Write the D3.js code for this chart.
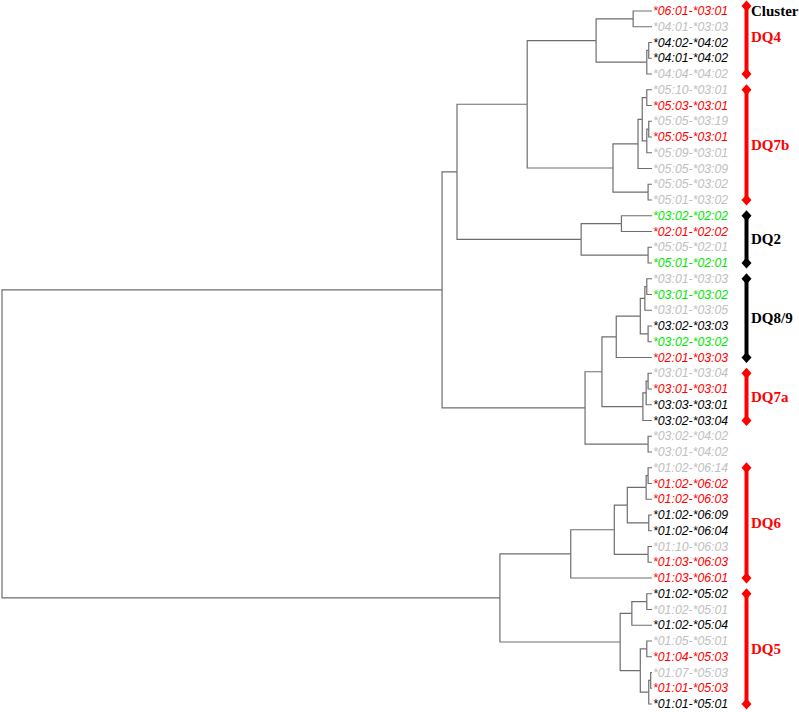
<!DOCTYPE html>
<html><head><meta charset="utf-8">
<script src="https://cdn.jsdelivr.net/npm/d3@7"></script>
<style>body{margin:0;background:#fff;} svg{display:block;}</style>
</head><body>
<svg id="chart" width="799" height="712"></svg>
<script>
// ---- data ----
const leafLabels = [
  "*06:01-*03:01","*04:01-*03:03","*04:02-*04:02","*04:01-*04:02","*04:04-*04:02",
  "*05:10-*03:01","*05:03-*03:01","*05:05-*03:19","*05:05-*03:01","*05:09-*03:01",
  "*05:05-*03:09","*05:05-*03:02","*05:01-*03:02","*03:02-*02:02","*02:01-*02:02",
  "*05:05-*02:01","*05:01-*02:01","*03:01-*03:03","*03:01-*03:02","*03:01-*03:05",
  "*03:02-*03:03","*03:02-*03:02","*02:01-*03:03","*03:01-*03:04","*03:01-*03:01",
  "*03:03-*03:01","*03:02-*03:04","*03:02-*04:02","*03:01-*04:02","*01:02-*06:14",
  "*01:02-*06:02","*01:02-*06:03","*01:02-*06:09","*01:02-*06:04","*01:10-*06:03",
  "*01:03-*06:03","*01:03-*06:01","*01:02-*05:02","*01:02-*05:01","*01:02-*05:04",
  "*01:05-*05:01","*01:04-*05:03","*01:07-*05:03","*01:01-*05:03","*01:01-*05:01"
];
const leafGroups = [
  "r","n","k","k","n", "n","r","n","r","n", "n","n","n","g","r",
  "n","g","n","g","n", "k","g","r","n","r", "k","k","n","n","n",
  "r","r","k","k","n", "r","r","k","n","k", "n","r","n","r","k"
];
// linkage: [childA, childB, height]; ids of merges start at leafLabels.length
const merges = [
  [2,3,0.005],[45,4,0.008],[0,1,0.029],[47,46,0.086],
  [5,6,0.008],[7,8,0.005],[50,9,0.008],[49,51,0.015],[52,10,0.0215],[11,12,0.006],[53,54,0.060],
  [48,55,0.192],[13,14,0.047],[15,16,0.006],[57,58,0.109],[56,59,0.300],
  [17,18,0.008],[61,19,0.011],[20,21,0.006],[62,63,0.018],[64,22,0.055],
  [23,24,0.006],[66,25,0.009],[67,26,0.014],[65,68,0.077],[27,28,0.006],[69,70,0.103],
  [60,71,0.323],
  [29,30,0.006],[73,31,0.009],[32,33,0.005],[74,75,0.038],[34,35,0.006],[76,77,0.058],[78,36,0.125],
  [37,38,0.008],[80,39,0.031],[40,41,0.008],[42,43,0.002],[83,44,0.005],[82,84,0.018],[81,85,0.049],
  [79,86,0.234],[72,87,1.000]
];
const clusterNames  = ["DQ4","DQ7b","DQ2","DQ8/9","DQ7a","DQ6","DQ5"];
const clusterStart  = [0,5,13,17,23,29,37];
const clusterEnd    = [4,12,16,22,26,36,44];
const clusterColors = ["r","r","k","k","r","r","r"];
const colorMap = {r:"#ff0000", k:"#000000", n:"#c0c0c0", g:"#00e600"};

// ---- build hierarchy ----
const nLeaf = leafLabels.length;
const nodes = leafLabels.map((l,i)=>({id:i, name:l, group:leafGroups[i], height:0}));
merges.forEach((m,i)=>nodes.push({id:nLeaf+i, height:m[2], children:[nodes[m[0]], nodes[m[1]]]}));
const root = d3.hierarchy(nodes[nodes.length-1]);

const svg = d3.select("#chart");
const x = d3.scaleLinear().domain([0, d3.max(merges, m=>m[2])]).range([652, 2]);
const y = d3.scalePoint().domain(d3.range(nLeaf)).range([11, 704]);

root.eachAfter(n=>{
  n.px = x(n.data.height);
  n.py = n.children ? d3.mean(n.children, c=>c.py) : y(n.data.id);
});

svg.append("g").selectAll("path").data(root.links()).join("path")
  .attr("d", l=>`M${l.source.px},${l.source.py}V${l.target.py}H${l.target.px}`)
  .attr("fill","none").attr("stroke","#6e6e6e").attr("stroke-width",1.2);

svg.append("g").selectAll("text").data(root.leaves()).join("text")
  .attr("x", d=>d.px+1).attr("y", d=>d.py)
  .attr("dominant-baseline","central")
  .attr("font-family","'Liberation Sans', Arial, sans-serif")
  .attr("font-style","italic").attr("font-size",12.3)
  .attr("fill", d=>colorMap[d.data.group])
  .text(d=>d.data.name);

// ---- cluster brackets ----
const bx = 746.5;
const diamond = (cx,cy)=>`M${cx},${cy-5.5}L${cx+5},${cy}L${cx},${cy+5.5}L${cx-5},${cy}Z`;
const cg = svg.append("g");
clusterNames.forEach((name,i)=>{
  const y0 = y(clusterStart[i]) - (i===0 ? 5 : 0), y1 = y(clusterEnd[i]);
  const col = colorMap[clusterColors[i]];
  cg.append("line").attr("x1",bx).attr("x2",bx).attr("y1",y0).attr("y2",y1)
    .attr("stroke",col).attr("stroke-width",4);
  cg.append("path").attr("d",diamond(bx,y0)).attr("fill",col);
  cg.append("path").attr("d",diamond(bx,y1)).attr("fill",col);
  cg.append("text").attr("x",751).attr("y",(y0+y1)/2 - (i===0?3:0))
    .attr("dominant-baseline","central")
    .attr("font-family","'Liberation Serif','Times New Roman',serif")
    .attr("font-weight","bold").attr("font-size",15)
    .attr("fill",col).text(name);
});
svg.append("text").attr("x",751).attr("y",y(0))
  .attr("dominant-baseline","central")
  .attr("font-family","'Liberation Serif','Times New Roman',serif")
  .attr("font-weight","bold").attr("font-size",15)
  .attr("fill","#000").text("Cluster");
</script>
</body></html>
